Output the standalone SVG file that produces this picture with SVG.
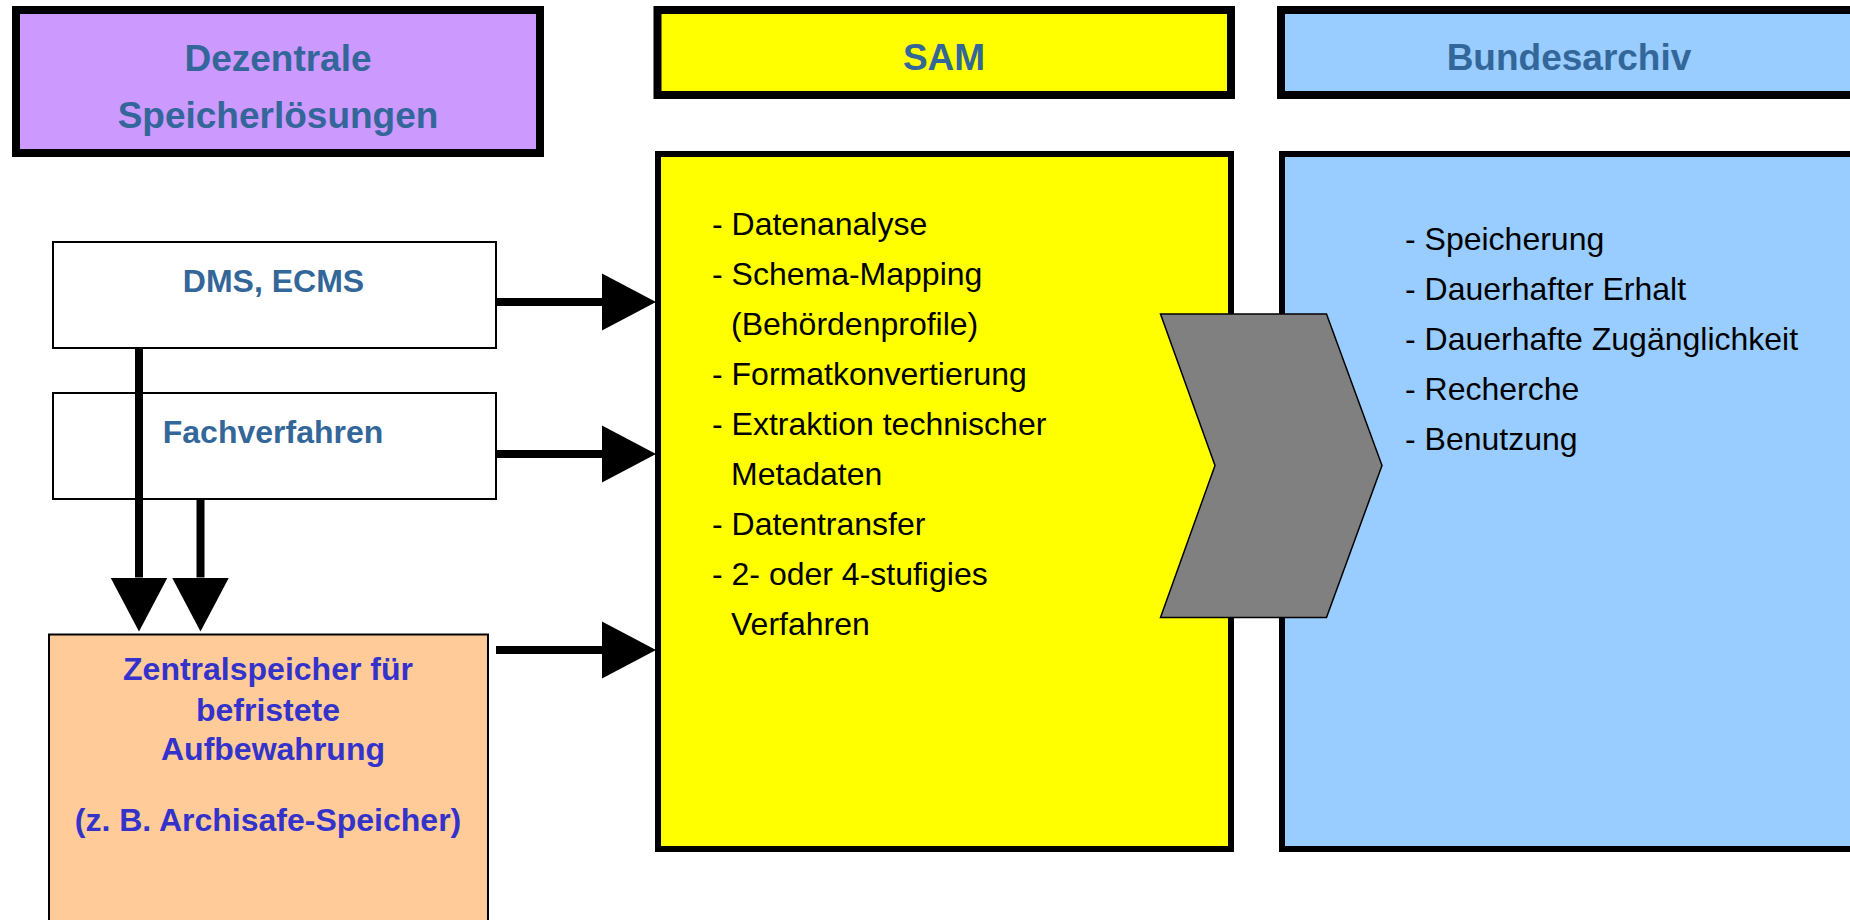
<svg xmlns="http://www.w3.org/2000/svg" width="1850" height="920" viewBox="0 0 1850 920">
<style>
text{font-family:"Liberation Sans",Arial,sans-serif}
.hdr{font-size:37px;font-weight:bold;fill:#336699;text-anchor:middle}
.src{font-size:32px;font-weight:bold;fill:#336699;text-anchor:middle}
.zs{font-size:32px;font-weight:bold;fill:#3333CC;text-anchor:middle}
.li{font-size:32px;fill:#000}
.thick{stroke:#000;stroke-width:8}
.main{stroke:#000;stroke-width:6}
.thin{stroke:#000;stroke-width:2}
.conn{stroke:#000;stroke-width:8;fill:none;marker-end:url(#ah)}
</style>
<defs>
<marker id="ah" viewBox="0 -29 55 58" refX="0" refY="0" markerWidth="55" markerHeight="58" markerUnits="userSpaceOnUse" orient="auto">
<path d="M0,-28.5 L54,0 L0,28.5 Z" fill="#000"/>
</marker>
</defs>
<rect width="1850" height="920" fill="#fff"/>
<g id="hdr-dezentral">
<rect x="16" y="10" width="524" height="143" fill="#CC99FF" class="thick"/>
<text x="278" y="71" class="hdr">Dezentrale</text>
<text x="278" y="128" class="hdr">Speicherlösungen</text>
</g>
<g id="hdr-sam">
<rect x="657.5" y="10" width="573.5" height="85" fill="#FFFF00" class="thick"/>
<text x="944" y="70" class="hdr">SAM</text>
</g>
<g id="hdr-bundesarchiv">
<rect x="1281" y="10" width="576" height="85" fill="#99CCFF" class="thick"/>
<text x="1569" y="70" class="hdr">Bundesarchiv</text>
</g>
<g id="dms">
<rect x="53" y="242" width="443" height="106" fill="#fff" class="thin"/>
<text x="273.5" y="292" class="src">DMS, ECMS</text>
</g>
<g id="fachverfahren">
<rect x="53" y="393" width="443" height="106" fill="#fff" class="thin"/>
<text x="273" y="443" class="src">Fachverfahren</text>
</g>
<g id="zentralspeicher">
<rect x="49" y="634.5" width="439" height="300" fill="#FFCC99" class="thin"/>
<text x="268" y="680" class="zs">Zentralspeicher für</text>
<text x="268" y="721" class="zs">befristete</text>
<text x="273" y="760" class="zs">Aufbewahrung</text>
<text x="268" y="831" class="zs">(z. B. Archisafe-Speicher)</text>
</g>
<g id="sam">
<rect x="658" y="154" width="573" height="695" fill="#FFFF00" class="main"/>
<text class="li" x="712" y="235">- Datenanalyse</text>
<text class="li" x="712" y="285">- Schema-Mapping</text>
<text class="li" x="731" y="335">(Behördenprofile)</text>
<text class="li" x="712" y="385">- Formatkonvertierung</text>
<text class="li" x="712" y="435">- Extraktion technischer</text>
<text class="li" x="731" y="485">Metadaten</text>
<text class="li" x="712" y="535">- Datentransfer</text>
<text class="li" x="712" y="585">- 2- oder 4-stufigies</text>
<text class="li" x="731" y="635">Verfahren</text>
</g>
<g id="bundesarchiv">
<rect x="1282" y="154" width="576" height="695" fill="#99CCFF" class="main"/>
<text class="li" x="1405" y="250">- Speicherung</text>
<text class="li" x="1405" y="300">- Dauerhafter Erhalt</text>
<text class="li" x="1405" y="350">- Dauerhafte Zugänglichkeit</text>
<text class="li" x="1405" y="400">- Recherche</text>
<text class="li" x="1405" y="450">- Benutzung</text>
</g>
<g id="chevron">
<polygon points="1160.5,314 1326.5,314 1382,465.5 1326.5,617.5 1160.5,617.5 1215,465.5" fill="#808080" stroke="#000" stroke-width="1.5"/>
</g>
<g id="connectors">
<line class="conn" x1="496" y1="302" x2="602" y2="302"/>
<line class="conn" x1="496" y1="454" x2="602" y2="454"/>
<line class="conn" x1="496" y1="650" x2="602" y2="650"/>
<line class="conn" x1="139" y1="348" x2="139" y2="577.5"/>
<line class="conn" x1="200.5" y1="499" x2="200.5" y2="577.5"/>
</g>
</svg>
